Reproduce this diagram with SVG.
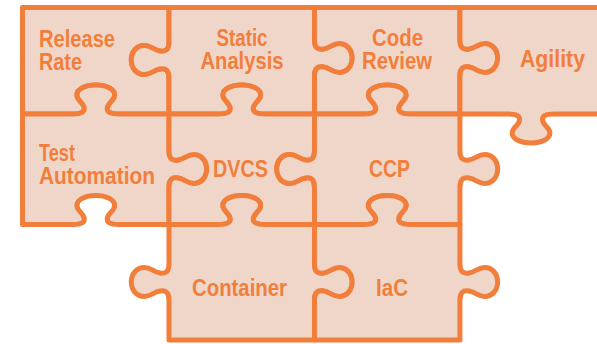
<svg xmlns="http://www.w3.org/2000/svg" width="597" height="344" viewBox="0 0 597 344">
<style>
.pc { fill:#F0D6C8; stroke:#F27E3B; stroke-width:5; stroke-linejoin:round; vector-effect:non-scaling-stroke; }
.t { font-family:"Liberation Sans", Arial, sans-serif; font-weight:bold; font-size:23px; fill:#F27E3B; }
.m { text-anchor:middle; }
</style>
<rect width="597" height="344" fill="#FFFFFF"/>
<g id="release-rate">
<path class="pc" vector-effect="non-scaling-stroke" transform="matrix(1.3 0 0 1 0 0)" d="M17.3,7.5 H130 V42 c0,7 -2,10 -7,9 c-5,-1 -7,-5.5 -12,-5.5 c-6,0 -10,6.5 -10,14.5 c0,8 4,14.5 10,14.5 c5,0 7,-4.5 12,-5.5 c5,-1 7,2 7,9 V114 H91.65 c-7,0 -10,-2 -9,-7 c1,-5 5.5,-7 5.5,-12 c0,-6 -6.5,-10 -14.5,-10 c-8,0 -14.5,4 -14.5,10 c0,5 4.5,7 5.5,12 c1,5 -2,7 -9,7 H17.3 Z"/>
<text class="t" x="39" y="47" textLength="76" lengthAdjust="spacingAndGlyphs">Release</text>
<text class="t" x="39" y="69.5" textLength="43" lengthAdjust="spacingAndGlyphs">Rate</text>
</g>
<g id="static-analysis">
<path class="pc" vector-effect="non-scaling-stroke" transform="matrix(1.3 0 0 1 0 0)" d="M130,7.5 H241.9 V40 c0,7 2,10 7,9 c5,-1 7,-5.5 12,-5.5 c6,0 10,6.5 10,14.5 c0,8 -4,14.5 -10,14.5 c-5,0 -7,-4.5 -12,-5.5 c-5,-1 -7,2 -7,9 V114 H203.95 c-7,0 -10,-2 -9,-7 c1,-5 5.5,-7 5.5,-12 c0,-6 -6.5,-10 -14.5,-10 c-8,0 -14.5,4 -14.5,10 c0,5 4.5,7 5.5,12 c1,5 -2,7 -9,7 H130 V78 c0,-7 -2,-10 -7,-9 c-5,1 -7,5.5 -12,5.5 c-6,0 -10,-6.5 -10,-14.5 c0,-8 4,-14.5 10,-14.5 c5,0 7,4.5 12,5.5 c5,1 7,-2 7,-9 Z"/>
<text class="t m" x="242" y="46" textLength="51" lengthAdjust="spacingAndGlyphs">Static</text>
<text class="t m" x="242" y="69" textLength="83" lengthAdjust="spacingAndGlyphs">Analysis</text>
</g>
<g id="code-review">
<path class="pc" vector-effect="non-scaling-stroke" transform="matrix(1.3 0 0 1 0 0)" d="M241.9,7.5 H353.8 V40 c0,7 2,10 7,9 c5,-1 7,-5.5 12,-5.5 c6,0 10,6.5 10,14.5 c0,8 -4,14.5 -10,14.5 c-5,0 -7,-4.5 -12,-5.5 c-5,-1 -7,2 -7,9 V114 H315.85 c-7,0 -10,-2 -9,-7 c1,-5 5.5,-7 5.5,-12 c0,-6 -6.5,-10 -14.5,-10 c-8,0 -14.5,4 -14.5,10 c0,5 4.5,7 5.5,12 c1,5 -2,7 -9,7 H241.9 V76 c0,-7 2,-10 7,-9 c5,1 7,5.5 12,5.5 c6,0 10,-6.5 10,-14.5 c0,-8 -4,-14.5 -10,-14.5 c-5,0 -7,4.5 -12,5.5 c-5,1 -7,-2 -7,-9 Z"/>
<text class="t m" x="397.5" y="46" textLength="51" lengthAdjust="spacingAndGlyphs">Code</text>
<text class="t m" x="397" y="68.5" textLength="70" lengthAdjust="spacingAndGlyphs">Review</text>
</g>
<g id="agility">
<path class="pc" vector-effect="non-scaling-stroke" transform="matrix(1.3 0 0 1 0 0)" d="M353.8,7.5 H470 V114 H426.5 c-7,0 -10,2 -9,7 c1,5 5.5,7 5.5,12 c0,6 -6.5,10 -14.5,10 c-8,0 -14.5,-4 -14.5,-10 c0,-5 4.5,-7 5.5,-12 c1,-5 -2,-7 -9,-7 H353.8 V76 c0,-7 2,-10 7,-9 c5,1 7,5.5 12,5.5 c6,0 10,-6.5 10,-14.5 c0,-8 -4,-14.5 -10,-14.5 c-5,0 -7,4.5 -12,5.5 c-5,1 -7,-2 -7,-9 Z"/>
<text class="t m" x="552.5" y="66.5" textLength="65" lengthAdjust="spacingAndGlyphs">Agility</text>
</g>
<g id="test-automation">
<path class="pc" vector-effect="non-scaling-stroke" transform="matrix(1.3 0 0 1 0 0)" d="M17.3,114 H55.65 c7,0 10,-2 9,-7 c-1,-5 -5.5,-7 -5.5,-12 c0,-6 6.5,-10 14.5,-10 c8,0 14.5,4 14.5,10 c0,5 -4.5,7 -5.5,12 c-1,5 2,7 9,7 H130 V151 c0,7 2,10 7,9 c5,-1 7,-5.5 12,-5.5 c6,0 10,6.5 10,14.5 c0,8 -4,14.5 -10,14.5 c-5,0 -7,-4.5 -12,-5.5 c-5,-1 -7,2 -7,9 V224.5 H91.65 c-7,0 -10,-2 -9,-7 c1,-5 5.5,-7 5.5,-12 c0,-6 -6.5,-10 -14.5,-10 c-8,0 -14.5,4 -14.5,10 c0,5 4.5,7 5.5,12 c1,5 -2,7 -9,7 H17.3 Z"/>
<text class="t" x="39" y="160.5" textLength="36" lengthAdjust="spacingAndGlyphs">Test</text>
<text class="t" x="39" y="184" textLength="116" lengthAdjust="spacingAndGlyphs">Automation</text>
</g>
<g id="dvcs">
<path class="pc" vector-effect="non-scaling-stroke" transform="matrix(1.3 0 0 1 0 0)" d="M130,114 H167.95 c7,0 10,-2 9,-7 c-1,-5 -5.5,-7 -5.5,-12 c0,-6 6.5,-10 14.5,-10 c8,0 14.5,4 14.5,10 c0,5 -4.5,7 -5.5,12 c-1,5 2,7 9,7 H241.9 V151 c0,7 -2,10 -7,9 c-5,-1 -7,-5.5 -12,-5.5 c-6,0 -10,6.5 -10,14.5 c0,8 4,14.5 10,14.5 c5,0 7,-4.5 12,-5.5 c5,-1 7,2 7,9 V224.5 H203.95 c-7,0 -10,-2 -9,-7 c1,-5 5.5,-7 5.5,-12 c0,-6 -6.5,-10 -14.5,-10 c-8,0 -14.5,4 -14.5,10 c0,5 4.5,7 5.5,12 c1,5 -2,7 -9,7 H130 V187 c0,-7 2,-10 7,-9 c5,1 7,5.5 12,5.5 c6,0 10,-6.5 10,-14.5 c0,-8 -4,-14.5 -10,-14.5 c-5,0 -7,4.5 -12,5.5 c-5,1 -7,-2 -7,-9 Z"/>
<text class="t m" x="240.5" y="176.5" textLength="55" lengthAdjust="spacingAndGlyphs">DVCS</text>
</g>
<g id="ccp">
<path class="pc" vector-effect="non-scaling-stroke" transform="matrix(1.3 0 0 1 0 0)" d="M241.9,114 H279.85 c7,0 10,-2 9,-7 c-1,-5 -5.5,-7 -5.5,-12 c0,-6 6.5,-10 14.5,-10 c8,0 14.5,4 14.5,10 c0,5 -4.5,7 -5.5,12 c-1,5 2,7 9,7 H353.8 V151 c0,7 2,10 7,9 c5,-1 7,-5.5 12,-5.5 c6,0 10,6.5 10,14.5 c0,8 -4,14.5 -10,14.5 c-5,0 -7,-4.5 -12,-5.5 c-5,-1 -7,2 -7,9 V224.5 H315.85 c-7,0 -10,-2 -9,-7 c1,-5 5.5,-7 5.5,-12 c0,-6 -6.5,-10 -14.5,-10 c-8,0 -14.5,4 -14.5,10 c0,5 4.5,7 5.5,12 c1,5 -2,7 -9,7 H241.9 V187 c0,-7 -2,-10 -7,-9 c-5,1 -7,5.5 -12,5.5 c-6,0 -10,-6.5 -10,-14.5 c0,-8 4,-14.5 10,-14.5 c5,0 7,4.5 12,5.5 c5,1 7,-2 7,-9 Z"/>
<text class="t m" x="389.5" y="176.5" textLength="41" lengthAdjust="spacingAndGlyphs">CCP</text>
</g>
<g id="container">
<path class="pc" vector-effect="non-scaling-stroke" transform="matrix(1.3 0 0 1 0 0)" d="M130,224.5 H167.95 c7,0 10,-2 9,-7 c-1,-5 -5.5,-7 -5.5,-12 c0,-6 6.5,-10 14.5,-10 c8,0 14.5,4 14.5,10 c0,5 -4.5,7 -5.5,12 c-1,5 2,7 9,7 H241.9 V264 c0,7 2,10 7,9 c5,-1 7,-5.5 12,-5.5 c6,0 10,6.5 10,14.5 c0,8 -4,14.5 -10,14.5 c-5,0 -7,-4.5 -12,-5.5 c-5,-1 -7,2 -7,9 V340 H130 V300 c0,-7 -2,-10 -7,-9 c-5,1 -7,5.5 -12,5.5 c-6,0 -10,-6.5 -10,-14.5 c0,-8 4,-14.5 10,-14.5 c5,0 7,4.5 12,5.5 c5,1 7,-2 7,-9 Z"/>
<text class="t m" x="239.5" y="296" textLength="95" lengthAdjust="spacingAndGlyphs">Container</text>
</g>
<g id="iac">
<path class="pc" vector-effect="non-scaling-stroke" transform="matrix(1.3 0 0 1 0 0)" d="M241.9,224.5 H279.85 c7,0 10,-2 9,-7 c-1,-5 -5.5,-7 -5.5,-12 c0,-6 6.5,-10 14.5,-10 c8,0 14.5,4 14.5,10 c0,5 -4.5,7 -5.5,12 c-1,5 2,7 9,7 H353.8 V264 c0,7 2,10 7,9 c5,-1 7,-5.5 12,-5.5 c6,0 10,6.5 10,14.5 c0,8 -4,14.5 -10,14.5 c-5,0 -7,-4.5 -12,-5.5 c-5,-1 -7,2 -7,9 V340 H241.9 V300 c0,-7 2,-10 7,-9 c5,1 7,5.5 12,5.5 c6,0 10,-6.5 10,-14.5 c0,-8 -4,-14.5 -10,-14.5 c-5,0 -7,4.5 -12,5.5 c-5,1 -7,-2 -7,-9 Z"/>
<text class="t m" x="392" y="296" textLength="32" lengthAdjust="spacingAndGlyphs">IaC</text>
</g>
</svg>
